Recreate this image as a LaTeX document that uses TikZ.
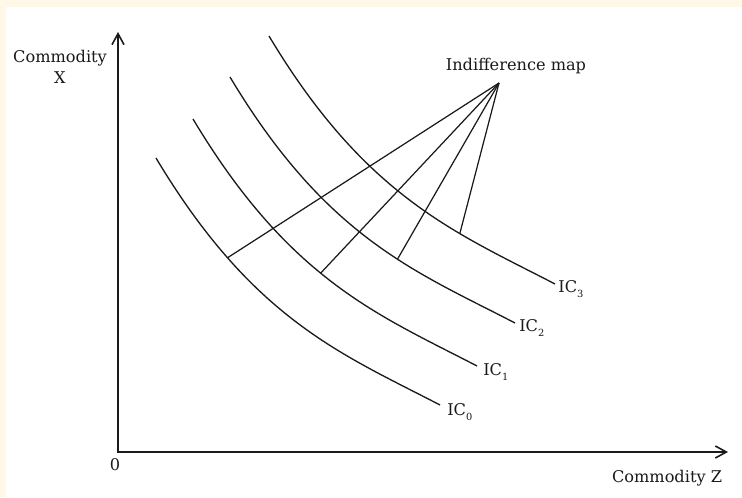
\documentclass[tikz,border=0pt]{standalone}
\usepackage{fontspec}
\setmainfont{DejaVu Serif}
\usetikzlibrary{arrows.meta}
\definecolor{papel}{HTML}{FFF8E8}
\definecolor{tinta}{HTML}{1A1A1A}
\newcommand{\baixo}[1]{\raisebox{-2.6pt}{\fontsize{5.6}{6}\selectfont #1}}
\begin{document}
\begin{tikzpicture}[x=0.02cm, y=-0.02cm,
  every node/.style={font=\fontsize{9.2}{11.6}\selectfont, text=tinta},
  eixo/.style={{Straight Barb[length=2.2mm,width=2.4mm]}-{Straight Barb[length=2.2mm,width=2.4mm]},
               line width=0.9pt, tinta},
  curva/.style={line width=0.75pt, tinta},
  raio/.style={line width=0.7pt, tinta},
  rotulo/.style={inner sep=0pt, align=center},
  indice/.style={inner sep=0pt, anchor=west}
]
% fundo
\fill[papel] (0,0) rectangle (742,497);
\fill[white] (6,7) rectangle (742,497);
\useasboundingbox (0,0) rectangle (742,497);
% eixos
\coordinate (O) at (118,452);
\coordinate (topo) at (118,32);
\coordinate (fim) at (728,452);
\draw[eixo] (topo) -- (O) -- (fim);
% curvas de indiferenca
\draw[curva] (156,158) .. controls (253,320) and (342,354) .. (440,405) coordinate[pos=0.25] (p0);
\draw[curva] (193,119) .. controls (290,281) and (379,315) .. (477,366) coordinate[pos=0.45] (p1);
\draw[curva] (230,77) .. controls (327,239) and (417,272) .. (515,323) coordinate[pos=0.59] (p2);
\draw[curva] (269,36) .. controls (366,198) and (457,233) .. (555,284) coordinate[pos=0.67] (p3);
\node[indice] (ic0) at (447,412) {IC\baixo{0}};
\node[indice] (ic1) at (483,372) {IC\baixo{1}};
\node[indice] (ic2) at (519,328) {IC\baixo{2}};
\node[indice] (ic3) at (558,289) {IC\baixo{3}};
% mapa de indiferenca
\coordinate (hub) at (499,83);
\foreach \p in {p0,p1,p2,p3}
  \draw[raio] (hub) -- (\p);
\node[rotulo] (mapa) at (516,66) {Indifference map};
% rotulos dos eixos
\node[rotulo] (eixox) at (60,67) {Commodity\\X};
\node[rotulo] (zero) at (115,465) {0};
\node[rotulo] (eixoz) at (667,478) {Commodity Z};
\end{tikzpicture}
\end{document}
